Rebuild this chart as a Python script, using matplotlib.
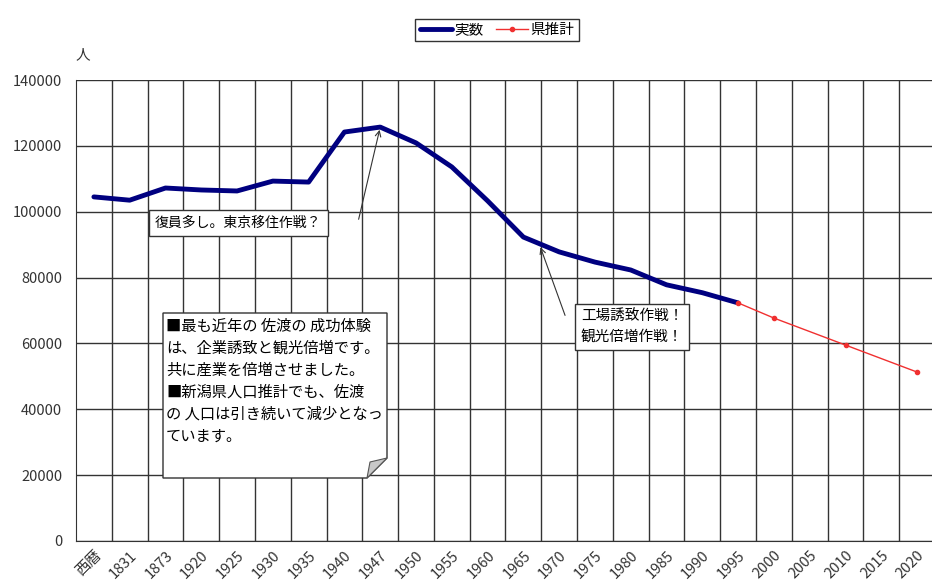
import numpy as np
import matplotlib.pyplot as plt
import matplotlib.patches as patches

plt.rcParams['font.family'] = ['Noto Sans CJK JP', 'DejaVu Sans']

# 佐渡の人口推移
years = ["西暦", "1831", "1873", "1920", "1925", "1930", "1935", "1940", "1947",
         "1950", "1955", "1960", "1965", "1970", "1975", "1980", "1985", "1990",
         "1995", "2000", "2005", "2010", "2015", "2020"]
actual = [104500, 103500, 107200, 106600, 106300, 109300, 109000, 124200, 125700,
          120900, 113600, 103300, 92300, 87800, 84700, 82300, 77800, 75400,
          72300]
forecast_years = ["1995", "2000", "2010", "2020"]
forecast = [72300, 67700, 59500, 51300]

x = np.arange(len(years))
x_act = x[:len(actual)]
x_fc = [years.index(y) for y in forecast_years]

fig = plt.figure(figsize=(9.32, 5.85), dpi=100)
ax = fig.add_axes([76 / 932, 1 - 541 / 585, 859 / 932, 461 / 585])

ax.plot(x_act, actual, color="#000080", lw=3.5, solid_capstyle="round",
        solid_joinstyle="round", label="実数", zorder=3)
ax.plot(x_fc, forecast, color="#f03030", lw=1, marker="o", ms=3,
        mfc="#f03030", mec="#f03030", label="県推計", zorder=4)

ax.set_xlim(-0.5, len(years) - 0.5)
ax.set_ylim(0, 140000)
ax.set_yticks(np.arange(0, 140001, 20000))
ax.set_yticklabels([str(v) for v in range(0, 140001, 20000)], fontsize=10.5,
                   color="#333333")
ax.set_xticks(x)
ax.set_xticklabels(years, rotation=45, ha="right", va="top",
                   rotation_mode="anchor", fontsize=10.5, color="#333333")
ax.set_xticks(np.arange(0.5, len(years) - 0.5, 1), minor=True)
ax.tick_params(axis="both", which="both", length=0)
ax.tick_params(axis="y", pad=10)
ax.tick_params(axis="x", pad=5)
ax.grid(which="minor", axis="x", color="#333333", lw=1)
ax.grid(which="major", axis="y", color="#333333", lw=1)
for side in ["top", "right"]:
    ax.spines[side].set_visible(False)
ax.spines["left"].set_color("#333333")
ax.spines["bottom"].set_color("#333333")

fig.text(83 / 932, 1 - 55 / 585, "人", fontsize=10.5, ha="center",
         va="center", color="#333333")

leg = ax.legend(loc="center", bbox_to_anchor=(497 / 932, 1 - 30 / 585),
                bbox_transform=fig.transFigure, ncol=2, fontsize=10.5,
                frameon=True, fancybox=False, handlelength=2.2,
                columnspacing=0.8, handletextpad=0.2, borderpad=0.3)
leg.get_frame().set_edgecolor("black")
leg.get_frame().set_linewidth(1)

# 吹き出し: 1947年のピーク
ax.annotate("", xy=(8, actual[8]), xytext=(358, 585 - 222),
            textcoords="figure pixels",
            arrowprops=dict(arrowstyle="->", color="#333333", lw=0.8))
fig.text(155 / 932, 1 - 223 / 585, "復員多し。東京移住作戦？", fontsize=10,
         ha="left", va="center",
         bbox=dict(boxstyle="square,pad=0.45", fc="white", ec="#333333", lw=1))

# 吹き出し: 1970年前後
ax.annotate("", xy=(12.45, 90000), xytext=(566, 585 - 318),
            textcoords="figure pixels",
            arrowprops=dict(arrowstyle="->", color="#333333", lw=0.8))
fig.text(581 / 932, 1 - 327 / 585, "工場誘致作戦！\n観光倍増作戦！",
         fontsize=10.5, ha="left", va="center", linespacing=1.5,
         bbox=dict(boxstyle="square,pad=0.4", fc="white", ec="#333333", lw=1))

# 付箋メモ (右下の角が折れている)
l, r, t, b, f = 163, 387, 313, 478, 20
note = [(l, t), (r, t), (r, b - f), (r - f, b), (l, b)]
fig.patches.append(patches.Polygon(
    [(px / 932, 1 - py / 585) for px, py in note], closed=True,
    transform=fig.transFigure, fc="white", ec="#333333", lw=1, zorder=5))
fold = [(r, b - f), (r - f, b), (r - f + 3, b - f + 4)]
fig.patches.append(patches.Polygon(
    [(px / 932, 1 - py / 585) for px, py in fold], closed=True,
    transform=fig.transFigure, fc="#c8c8c8", ec="#555555", lw=0.8, zorder=6))
note_text = ("■最も近年の 佐渡の 成功体験\nは、企業誘致と観光倍増です。\n"
             "共に産業を倍増させました。\n■新潟県人口推計でも、佐渡\n"
             "の 人口は引き続いて減少となっ\nています。")
fig.text(166 / 932, 1 - 318 / 585, note_text, fontsize=11, ha="left",
         va="top", linespacing=1.38, zorder=7)

fig.savefig("out.png", dpi=100)
